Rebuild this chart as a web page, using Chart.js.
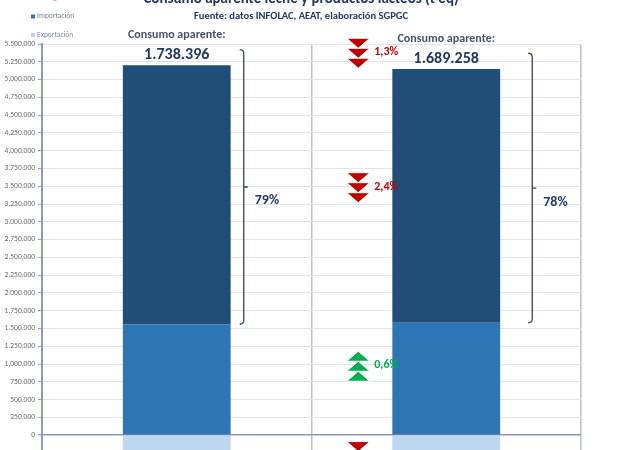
<!DOCTYPE html>
<html lang="es">
<head>
<meta charset="utf-8">
<title>Consumo aparente leche y productos lácteos</title>
<script src="https://cdn.jsdelivr.net/npm/chart.js@4.4.1/dist/chart.umd.min.js"></script>
<style>
    html, body { margin: 0; padding: 0; background: #fff; overflow: hidden; }
    #wrap { position: relative; width: 636px; height: 712px; }
</style>
</head>
<body>
<div id="wrap"><canvas id="chart" width="636" height="712"></canvas></div>
<script>
// Datos (t eq)
const categorias = ['Periodo 1', 'Periodo 2'];
const entrega = [3640000, 3570000];
const importacion = [1560000, 1580000];
const exportacion = [-3460000, -3460000];
const consumoAparente = [1738396, 1689258];
const porcentajes = ['79%', '78%'];
const variaciones = ['1,3%', '2,4%', '0,6%', ''];

const FUENTE = "Carlito, 'Liberation Sans', sans-serif";
const AZUL_OSCURO = '#1f3864';

// 5500000 -> "5.500.000"
function formatoMiles(v) {
    const s = Math.abs(Math.round(v)).toString().replace(/\B(?=(\d{3})+(?!\d))/g, '.');
    return (v < 0 ? '-' : '') + s;
}

function triangulo(ctx, x, y, ancho, alto, sube) {
    ctx.beginPath();
    if (sube) {
        ctx.moveTo(x, y);
        ctx.lineTo(x + ancho / 2, y + alto);
        ctx.lineTo(x - ancho / 2, y + alto);
    } else {
        ctx.moveTo(x - ancho / 2, y);
        ctx.lineTo(x + ancho / 2, y);
        ctx.lineTo(x, y + alto);
    }
    ctx.closePath();
    ctx.fill();
    ctx.stroke();
}

// Textos, leyenda, llaves y flechas
const anotaciones = {
    id: 'anotaciones',
    afterDraw(chart, args, opts) {
        const ctx = chart.ctx;
        const xs = chart.scales.x;
        const ys = chart.scales.y;
        ctx.save();

        // título y subtítulo
        ctx.textAlign = 'center';
        ctx.textBaseline = 'alphabetic';
        ctx.fillStyle = AZUL_OSCURO;
        ctx.font = `bold 15px ${FUENTE}`;
        ctx.fillText('Consumo aparente leche y productos lácteos (t eq)', 301, 3);
        ctx.font = `bold 10.5px ${FUENTE}`;
        ctx.fillText('Fuente: datos INFOLAC, AEAT, elaboración SGPGC', 301, 19);

        // leyenda vertical
        const leyenda = [
            ['Entrega', '#1f4e79'],
            ['Importación', '#2e75b6'],
            ['Exportación', '#bdd7ee']
        ];
        ctx.textAlign = 'left';
        ctx.textBaseline = 'middle';
        ctx.font = `7.5px ${FUENTE}`;
        leyenda.forEach(([texto, color], i) => {
            const y = -2 + i * 18.5;
            ctx.fillStyle = color;
            ctx.fillRect(31, y - 2, 4, 4);
            ctx.fillStyle = '#7a8599';
            ctx.fillText(texto, 37, y);
        });

        // consumo aparente sobre cada barra
        ctx.textAlign = 'center';
        categorias.forEach((c, i) => {
            const x = xs.getPixelForValue(i);
            const arriba = ys.getPixelForValue(entrega[i] + importacion[i]);
            ctx.fillStyle = '#44546a';
            ctx.font = `bold 12px ${FUENTE}`;
            ctx.fillText('Consumo aparente:', x, arriba - 30);
            ctx.fillStyle = AZUL_OSCURO;
            ctx.font = `bold 16px ${FUENTE}`;
            ctx.fillText(formatoMiles(consumoAparente[i]), x, arriba - 10);
        });

        // llaves con porcentaje
        ctx.strokeStyle = '#2f3f72';
        ctx.lineWidth = 1.3;
        opts.llaves.forEach((ll, i) => {
            const x = xs.getPixelForValue(i) + ll.dx;
            const y1 = ys.getPixelForValue(ll.desde);
            const y2 = ys.getPixelForValue(importacion[i]);
            const ym = (y1 + y2) / 2;
            ctx.beginPath();
            ctx.moveTo(x - 4, y1);
            ctx.quadraticCurveTo(x, y1, x, y1 + 4);
            ctx.lineTo(x, y2 - 4);
            ctx.quadraticCurveTo(x, y2, x - 4, y2);
            ctx.moveTo(x, ym);
            ctx.lineTo(x + 4, ym);
            ctx.stroke();
            ctx.fillStyle = AZUL_OSCURO;
            ctx.font = `bold 14px ${FUENTE}`;
            ctx.textAlign = 'left';
            ctx.fillText(porcentajes[i], x + 11, ym + 14);
        });

        // flechas de variación
        const xf = xs.getPixelForValue(1) - 88;
        ctx.strokeStyle = '#ffffff';
        ctx.lineWidth = 1;
        opts.flechas.forEach((f, i) => {
            const yc = ys.getPixelForValue(f.valor);
            const color = f.sube ? '#00b050' : '#c00000';
            ctx.fillStyle = color;
            for (let k = 0; k < 3; k++) {
                triangulo(ctx, xf, yc - 15 + k * 10, 23, 10, f.sube);
            }
            ctx.fillStyle = color;
            ctx.font = `bold 12px ${FUENTE}`;
            ctx.textAlign = 'left';
            ctx.fillText(variaciones[i], xf + 16, yc - 1);
        });

        ctx.restore();
    }
};

const ctx = document.getElementById('chart').getContext('2d');
const chart = new Chart(ctx, {
    type: 'bar',
    data: {
        labels: categorias,
        datasets: [
            { label: 'Importación', data: importacion, backgroundColor: '#2e75b6' },
            { label: 'Entrega', data: entrega, backgroundColor: '#1f4e79' },
            { label: 'Exportación', data: exportacion, backgroundColor: '#bdd7ee' }
        ]
    },
    options: {
        responsive: false,
        animation: false,
        layout: { padding: { top: 44, right: 55, bottom: 10, left: 0 } },
        datasets: { bar: { barPercentage: 0.4, categoryPercentage: 1 } },
        plugins: {
            legend: { display: false },
            tooltip: { enabled: false },
            anotaciones: {
                llaves: [
                    { dx: 67, desde: 5420000 },
                    { dx: 86, desde: 5370000 }
                ],
                flechas: [
                    { valor: 5370000, sube: false },
                    { valor: 3480000, sube: false },
                    { valor: 970000, sube: true },
                    { valor: -300000, sube: false }
                ]
            }
        },
        scales: {
            x: {
                stacked: true,
                ticks: { display: false },
                grid: { offset: true, color: '#b9c0d3', lineWidth: 1.5, drawTicks: false },
                border: { display: false }
            },
            y: {
                stacked: true,
                min: -3750000,
                max: 5500000,
                afterFit: (scale) => { scale.width = 42; },
                ticks: {
                    stepSize: 250000,
                    padding: 3,
                    color: '#6b6b6b',
                    font: { family: FUENTE, size: 7.5 },
                    callback: (v) => formatoMiles(v)
                },
                grid: {
                    color: (c) => c.tick && c.tick.value === 0 ? '#8a96b4' : '#e2e4eb',
                    lineWidth: (c) => c.tick && c.tick.value === 0 ? 1.5 : 1,
                    tickLength: 4,
                    tickColor: '#9aa5c0'
                },
                border: { color: '#8e9ab8', width: 2 }
            }
        }
    },
    plugins: [anotaciones]
});
</script>
</body>
</html>
